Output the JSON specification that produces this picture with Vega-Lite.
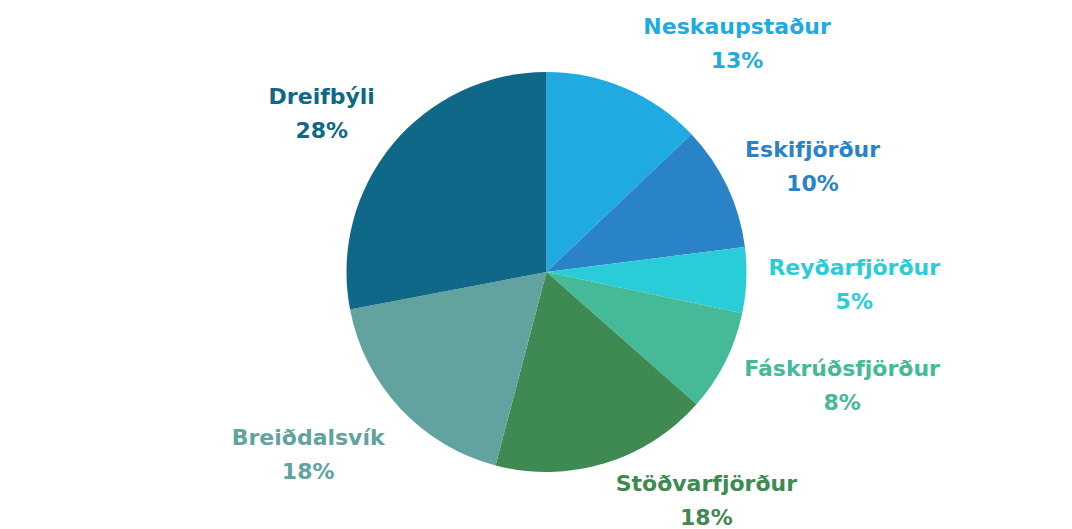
{
  "$schema": "https://vega.github.io/schema/vega-lite/v6.json",
  "width": 1051,
  "height": 514,
  "autosize": {"type": "none"},
  "padding": {"left": 21, "top": 15, "right": 0, "bottom": 0},
  "background": "white",
  "view": {"stroke": null},
  "config": {
    "text": {"font": "DejaVu Sans", "fontWeight": "bold", "fontSize": 22, "lineBreak": "\n", "lineHeight": 34, "align": "center", "baseline": "middle"}
  },
  "data": {
    "values": [
      {"idx": 1, "region": "Neskaupstaður", "share": 0.129, "label": "Neskaupstaður\n13%"},
      {"idx": 2, "region": "Eskifjörður", "share": 0.101, "label": "Eskifjörður\n10%"},
      {"idx": 3, "region": "Reyðarfjörður", "share": 0.053, "label": "Reyðarfjörður\n5%"},
      {"idx": 4, "region": "Fáskrúðsfjörður", "share": 0.082, "label": "Fáskrúðsfjörður\n8%"},
      {"idx": 5, "region": "Stöðvarfjörður", "share": 0.176, "label": "Stöðvarfjörður\n18%"},
      {"idx": 6, "region": "Breiðdalsvík", "share": 0.179, "label": "Breiðdalsvík\n18%"},
      {"idx": 7, "region": "Dreifbýli", "share": 0.280, "label": "Dreifbýli\n28%"}
    ]
  },
  "encoding": {
    "theta": {"field": "share", "type": "quantitative", "stack": true},
    "order": {"field": "idx", "type": "quantitative"},
    "color": {
      "field": "region",
      "type": "nominal",
      "legend": null,
      "scale": {
        "domain": ["Neskaupstaður", "Eskifjörður", "Reyðarfjörður", "Fáskrúðsfjörður", "Stöðvarfjörður", "Breiðdalsvík", "Dreifbýli"],
        "range": ["#1FAAE1", "#2A83C7", "#29CCD7", "#44BA98", "#3E8A52", "#62A39F", "#106888"]
      }
    }
  },
  "layer": [
    {"mark": {"type": "arc", "outerRadius": 200}},
    {"mark": {"type": "text", "radius": 250, "dx": 92, "dy": -15},
     "encoding": {"text": {"condition": {"test": "datum.region === 'Neskaupstaður'", "field": "label", "type": "nominal"}, "value": ""}}},
    {"mark": {"type": "text", "radius": 290, "dx": 4, "dy": 2},
     "encoding": {"text": {"condition": {"test": "datum.region === 'Eskifjörður'", "field": "label", "type": "nominal"}, "value": ""}}},
    {"mark": {"type": "text", "radius": 307, "dx": 1, "dy": -17},
     "encoding": {"text": {"condition": {"test": "datum.region === 'Reyðarfjörður'", "field": "label", "type": "nominal"}, "value": ""}}},
    {"mark": {"type": "text", "radius": 315, "dx": 14, "dy": -44},
     "encoding": {"text": {"condition": {"test": "datum.region === 'Fáskrúðsfjörður'", "field": "label", "type": "nominal"}, "value": ""}}},
    {"mark": {"type": "text", "radius": 240, "dx": 90, "dy": -18},
     "encoding": {"text": {"condition": {"test": "datum.region === 'Stöðvarfjörður'", "field": "label", "type": "nominal"}, "value": ""}}},
    {"mark": {"type": "text", "radius": 300, "dx": -19, "dy": -39},
     "encoding": {"text": {"condition": {"test": "datum.region === 'Breiðdalsvík'", "field": "label", "type": "nominal"}, "value": ""}}},
    {"mark": {"type": "text", "radius": 280, "dx": -9, "dy": 3},
     "encoding": {"text": {"condition": {"test": "datum.region === 'Dreifbýli'", "field": "label", "type": "nominal"}, "value": ""}}}
  ]
}
